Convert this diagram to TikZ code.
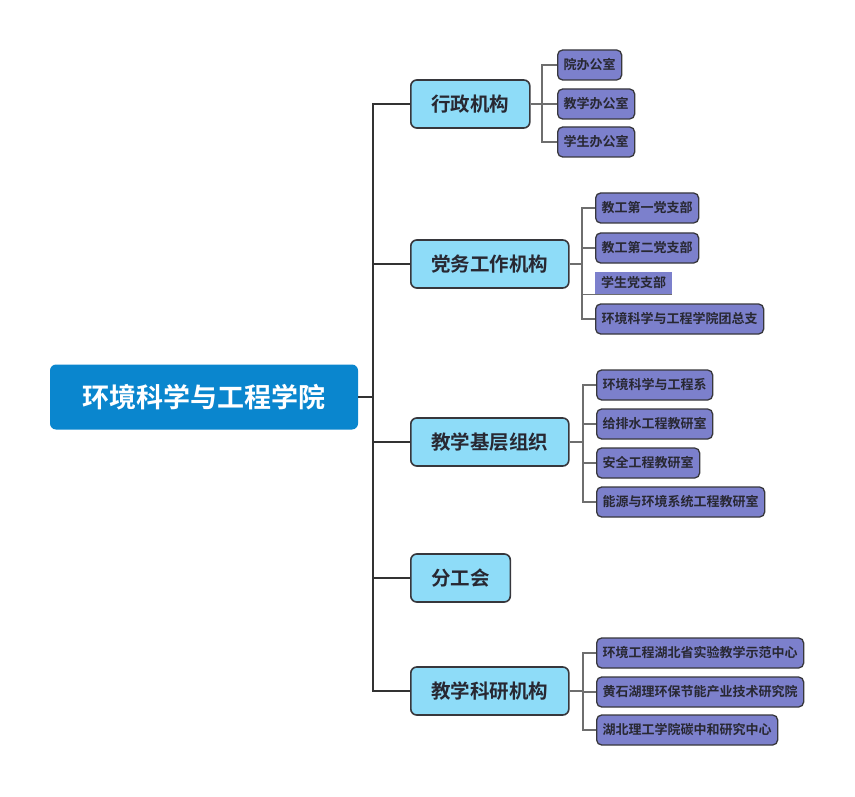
\documentclass[tikz,border=0pt]{standalone}
\usepackage{fontspec}
\newfontfamily\cjk{Noto Sans CJK SC}[BoldFont={Noto Sans CJK SC Bold}]
\definecolor{rootblue}{RGB}{10,134,206}
\definecolor{lvonefill}{RGB}{142,220,248}
\definecolor{lvtwofill}{RGB}{124,128,204}
\definecolor{boxline}{RGB}{55,55,60}
\definecolor{textdark}{RGB}{40,40,50}
\definecolor{trunkline}{RGB}{50,50,50}
\definecolor{twigline}{RGB}{110,110,110}
\begin{document}
\begin{tikzpicture}[x=1pt,y=-1pt,
    root/.style={fill=rootblue,rounded corners=6pt,text=white,font=\cjk\bfseries\fontsize{27}{30}\selectfont,minimum width=308pt,minimum height=65pt},
    lvone/.style={draw=boxline,line width=1.6pt,fill=lvonefill,rounded corners=6pt,text=textdark,font=\cjk\bfseries\fontsize{19.5}{22}\selectfont,inner xsep=20.5pt,minimum height=48pt,anchor=west},
    lvtwo/.style={draw=boxline,line width=1.3pt,fill=lvtwofill,rounded corners=5pt,text=textdark,font=\cjk\bfseries\fontsize{13}{15}\selectfont,inner xsep=6pt,minimum height=30pt,anchor=west},
    lvplain/.style={fill=lvtwofill,text=textdark,font=\cjk\bfseries\fontsize{13}{15}\selectfont,inner xsep=6pt,minimum height=22pt,anchor=west},
    trunk/.style={draw=trunkline,line width=2pt},
    twig/.style={draw=twigline,line width=1.3pt}]
    \useasboundingbox (0,0) rectangle (855,797);

    \node[root] (hj) at (204,397) {环境科学与工程学院};
    \coordinate (tr) at (373,397);

    \node[lvone] (xz) at (410,104) {行政机构};
    \node[lvone] (dw) at (410,264) {党务工作机构};
    \node[lvone] (jx) at (410,442) {教学基层组织};
    \node[lvone] (fg) at (410,578) {分工会};
    \node[lvone] (ky) at (410,691) {教学科研机构};

    \node[lvtwo] (xz1) at (557,65) {院办公室};
    \node[lvtwo] (xz2) at (557,104) {教学办公室};
    \node[lvtwo] (xz3) at (557,142) {学生办公室};
    \coordinate (bxz) at (542,104);

    \node[lvtwo] (dw1) at (595,208) {教工第一党支部};
    \node[lvtwo] (dw2) at (595,248) {教工第二党支部};
    \node[lvplain] (dw3) at (595,283) {学生党支部};
    \node[lvtwo] (dw4) at (595,319) {环境科学与工程学院团总支};
    \coordinate (bdw) at (582,264);

    \node[lvtwo] (jx1) at (596,385) {环境科学与工程系};
    \node[lvtwo] (jx2) at (596,424) {给排水工程教研室};
    \node[lvtwo] (jx3) at (596,463) {安全工程教研室};
    \node[lvtwo] (jx4) at (596,502) {能源与环境系统工程教研室};
    \coordinate (bjx) at (583,442);

    \node[lvtwo] (ky1) at (596,653) {环境工程湖北省实验教学示范中心};
    \node[lvtwo] (ky2) at (596,692) {黄石湖理环保节能产业技术研究院};
    \node[lvtwo] (ky3) at (596,730) {湖北理工学院碳中和研究中心};
    \coordinate (bky) at (583,691);

    \draw[trunk] (hj.east) -- (tr);
    \draw[trunk] (tr) |- (xz.west);
    \draw[trunk] (tr) |- (dw.west);
    \draw[trunk] (tr) |- (jx.west);
    \draw[trunk] (tr) |- (fg.west);
    \draw[trunk] (tr) |- (ky.west);

    \draw[twig] (xz.east) -- (bxz);
    \draw[twig] (bxz) |- (xz1.west);
    \draw[twig] (bxz) |- (xz2.west);
    \draw[twig] (bxz) |- (xz3.west);

    \draw[twig] (dw.east) -- (bdw);
    \draw[twig] (bdw) |- (dw1.west);
    \draw[twig] (bdw) |- (dw2.west);
    \draw[twig] (bdw) |- (dw3.south west) -- (dw3.south east);
    \draw[twig] (bdw) |- (dw4.west);

    \draw[twig] (jx.east) -- (bjx);
    \draw[twig] (bjx) |- (jx1.west);
    \draw[twig] (bjx) |- (jx2.west);
    \draw[twig] (bjx) |- (jx3.west);
    \draw[twig] (bjx) |- (jx4.west);

    \draw[twig] (ky.east) -- (bky);
    \draw[twig] (bky) |- (ky1.west);
    \draw[twig] (bky) |- (ky2.west);
    \draw[twig] (bky) |- (ky3.west);
\end{tikzpicture}
\end{document}
